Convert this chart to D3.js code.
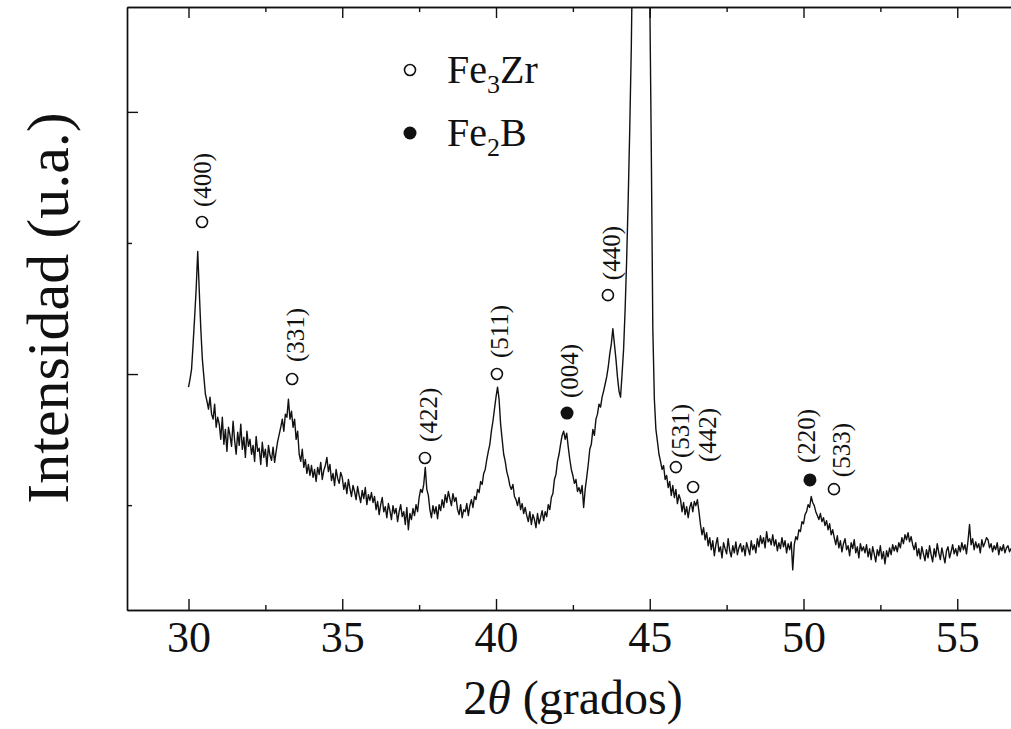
<!DOCTYPE html>
<meta charset="utf-8">
<style>

body {
  margin: 0;
  background: #fff;
}

svg {
  font-family: "Liberation Serif", "Times New Roman", serif;
  fill: #111;
}

.axis path,
.axis line {
  stroke: #111;
  stroke-width: 1.4px;
}

.axis text {
  font-family: "Liberation Serif", "Times New Roman", serif;
  fill: #111;
}

</style>
<svg width="1011" height="729"></svg>
<script src="https://d3js.org/d3.v7.min.js"></script>
<script>

// scan grid: first angle and step, in degrees 2θ
var startAngle = 30.0,
    angleStep = 0.05;

// diffracted intensity (u.a.), one reading per step, 30.00° .. 56.80°
var intensity = [
  950,981,1019,1115,1218,1326,1468,1318,1173,1058,989,923,897,866,912,847,828,885,797,835,
  809,751,835,732,789,705,797,766,724,820,747,694,778,728,809,713,759,682,782,724,
  751,694,728,667,762,705,717,655,740,682,713,648,728,690,671,721,663,705,743,770,
  797,828,782,847,835,904,828,858,797,828,751,782,694,667,713,644,674,621,655,613,
  651,606,636,590,644,617,663,598,632,651,682,628,655,594,621,575,636,602,583,625,
  606,560,586,544,598,563,533,575,552,521,571,537,510,556,525,567,502,540,518,548,
  510,533,483,514,464,502,529,475,494,452,506,479,445,498,468,487,437,475,502,456,
  475,426,491,406,468,445,487,460,502,475,529,560,548,579,644,560,537,483,452,498,
  468,494,448,502,479,521,491,540,510,552,525,498,544,514,529,483,464,502,452,483,
  475,506,460,498,521,491,533,521,560,548,590,579,621,636,674,705,732,782,820,866,
  912,950,904,809,751,694,667,628,606,575,560,579,533,521,498,529,483,506,468,491,
  460,437,475,426,464,445,414,468,429,452,479,441,475,456,502,483,529,544,598,617,
  667,694,732,766,782,751,774,721,674,636,613,583,598,552,567,544,575,491,560,606,
  655,713,732,789,766,828,847,885,874,912,935,962,989,1027,1077,1115,1173,1115,1058,989,
  935,912,1000,1096,1249,1441,1670,1938,2245,2700,3400,4300,5200,5900,6200,6000,5300,4400,3500,2900,
  2450,1862,1173,904,789,743,694,667,636,651,598,613,567,590,537,575,529,560,506,540,
  521,475,510,464,494,452,491,510,475,514,498,521,475,426,387,414,368,395,345,376,
  330,364,307,349,376,322,341,299,357,334,314,372,326,303,345,318,360,311,337,353,
  322,345,307,357,334,311,364,330,349,318,372,341,383,353,376,337,399,360,372,349,
  387,345,368,326,357,334,376,341,364,318,353,330,360,253,349,380,368,406,399,437,
  429,464,475,502,491,533,510,498,475,460,445,468,437,452,422,441,406,429,387,406,
  376,349,383,337,364,322,353,372,330,345,307,357,334,368,318,341,299,353,326,341,
  318,349,303,334,292,341,314,284,330,307,345,295,322,276,326,303,337,311,349,326,
  345,322,357,337,376,353,387,368,395,360,380,349,330,357,307,334,295,341,314,288,
  330,299,345,311,284,334,303,353,318,292,337,307,280,326,341,299,322,349,314,334,
  307,345,322,357,330,349,314,364,426,349,372,330,360,337,353,318,368,341,357,376,
  368,337,353,322,345,330,357,311,341,326,349,318,337,345,322,334,341
];

// indexed reflections: Miller indices, phase, position and marker height
var peakLabels  = ["(400)", "(331)", "(422)", "(511)", "(004)", "(440)", "(531)", "(442)", "(220)", "(533)"];
var peakPhases  = ["Fe3Zr", "Fe3Zr", "Fe3Zr", "Fe3Zr", "Fe2B", "Fe3Zr", "Fe3Zr", "Fe3Zr", "Fe2B", "Fe3Zr"];
var peakAngles  = [30.44, 33.37, 37.69, 40.03, 42.31, 43.64, 45.85, 46.41, 50.21, 50.99];
var peakHeights = [1580, 981, 680, 1000, 851, 1301, 645, 569, 596, 561];

// legend entries: phase, formula pieces (base, subscript, rest)
var legendPhases = ["Fe3Zr", "Fe2B"];
var legendParts  = [["Fe", "3", "Zr"], ["Fe", "2", "B"]];

// axis ticks
var xTicks      = [30, 35, 40, 45, 50, 55],
    xMinorTicks = [32.5, 37.5, 42.5, 47.5, 52.5],
    yTicks      = [1000, 2000],
    yMinorTicks = [500, 1500];

var svg = d3.select("svg"),
    width = +svg.attr("width"),
    height = +svg.attr("height");

// frame edges in px
var frameLeft = 127, frameTop = 7, frameBottom = 610;

var x = d3.scaleLinear()
    .domain([28, 57])
    .range([frameLeft, frameLeft + 29 * 30.75]);

var y = d3.scaleLinear()
    .domain([100, 2400])
    .range([frameBottom, frameTop]);

var data = intensity.map(function(v, i) {
  return { angle: startAngle + i * angleStep, value: v };
});

// plotting area clip so the strong Fe(110) peak is cut at the frame
svg.append("clipPath")
    .attr("id", "plot-clip")
  .append("rect")
    .attr("x", frameLeft)
    .attr("y", frameTop)
    .attr("width", width - frameLeft)
    .attr("height", frameBottom - frameTop);

// bottom axis, minor ticks then labelled ticks (ticks point inwards)
svg.append("g")
    .attr("class", "axis")
    .attr("transform", "translate(0," + frameBottom + ")")
    .call(d3.axisBottom(x).tickValues(xMinorTicks).tickSizeInner(-5).tickSizeOuter(0).tickFormat(""));

svg.append("g")
    .attr("class", "axis")
    .attr("transform", "translate(0," + frameBottom + ")")
    .call(d3.axisBottom(x).tickValues(xTicks).tickSizeInner(-11).tickSizeOuter(0).tickPadding(11))
    .call(function(g) { g.selectAll("text").style("font-size", "44px"); });

// top frame
svg.append("g")
    .attr("class", "axis")
    .attr("transform", "translate(0," + frameTop + ")")
    .call(d3.axisTop(x).tickValues(xMinorTicks).tickSizeInner(-5).tickSizeOuter(0).tickFormat(""));

svg.append("g")
    .attr("class", "axis")
    .attr("transform", "translate(0," + frameTop + ")")
    .call(d3.axisTop(x).tickValues(xTicks).tickSizeInner(-11).tickSizeOuter(0).tickFormat(""));

// left axis without numbers (arbitrary units)
svg.append("g")
    .attr("class", "axis")
    .attr("transform", "translate(" + frameLeft + ",0)")
    .call(d3.axisLeft(y).tickValues(yMinorTicks).tickSizeInner(-5).tickSizeOuter(0).tickFormat(""));

svg.append("g")
    .attr("class", "axis")
    .attr("transform", "translate(" + frameLeft + ",0)")
    .call(d3.axisLeft(y).tickValues(yTicks).tickSizeInner(-11).tickSizeOuter(0).tickFormat(""));

// diffractogram
var line = d3.line()
    .x(function(d) { return x(d.angle); })
    .y(function(d) { return y(d.value); });

svg.append("path")
    .datum(data)
    .attr("clip-path", "url(#plot-clip)")
    .attr("fill", "none")
    .attr("stroke", "#111")
    .attr("stroke-width", 1.4)
    .attr("stroke-linejoin", "round")
    .attr("d", line);

// marker style per phase
function marker(sel, phase) {
  if (phase === "Fe2B") {
    sel.attr("r", 6.5).attr("fill", "#111").attr("stroke", "none");
  } else {
    sel.attr("r", 5.5).attr("fill", "#fff").attr("stroke", "#111").attr("stroke-width", 1.6);
  }
}

// label nudges [dx, gap above marker] in px
var labelNudge = {
  "(400)": [0, 15], "(331)": [3, 17], "(422)": [3, 16], "(511)": [2, 16], "(004)": [2, 15],
  "(440)": [3, 15], "(531)": [4, 9], "(442)": [14, 25], "(220)": [-4, 17], "(533)": [7, 12]
};

var peaks = svg.selectAll(".peak")
    .data(peakLabels)
  .enter().append("g")
    .attr("class", "peak")
    .attr("transform", function(d, i) { return "translate(" + x(peakAngles[i]) + "," + y(peakHeights[i]) + ")"; });

peaks.append("circle")
    .each(function(d, i) { marker(d3.select(this), peakPhases[i]); });

peaks.append("text")
    .attr("transform", function(d) { return "translate(" + labelNudge[d][0] + "," + (-labelNudge[d][1]) + ") rotate(-90)"; })
    .attr("dy", "0.35em")
    .style("font-size", "25px")
    .text(function(d) { return d; });

// legend
var legend = svg.selectAll(".legend")
    .data(legendPhases)
  .enter().append("g")
    .attr("class", "legend")
    .attr("transform", function(d, i) { return "translate(410," + (70 + i * 63) + ")"; });

legend.append("circle")
    .each(function(d) { marker(d3.select(this), d); });

var legendText = legend.append("text")
    .attr("x", 37)
    .attr("y", 13)
    .style("font-size", "40px");

legendText.append("tspan").text(function(d, i) { return legendParts[i][0]; });
legendText.append("tspan")
    .attr("dy", 10)
    .style("font-size", "26px")
    .text(function(d, i) { return legendParts[i][1]; });
legendText.append("tspan")
    .attr("dy", -10)
    .text(function(d, i) { return legendParts[i][2]; });

// axis titles
var xTitle = svg.append("text")
    .attr("x", 573)
    .attr("y", 714)
    .attr("text-anchor", "middle")
    .style("font-size", "48px");

xTitle.append("tspan").text("2");
xTitle.append("tspan").style("font-style", "italic").text("\u03b8");
xTitle.append("tspan").text(" (grados)");

svg.append("text")
    .attr("transform", "translate(68,308) rotate(-90)")
    .attr("text-anchor", "middle")
    .style("font-size", "60px")
    .text("Intensidad (u.a.)");

</script>
